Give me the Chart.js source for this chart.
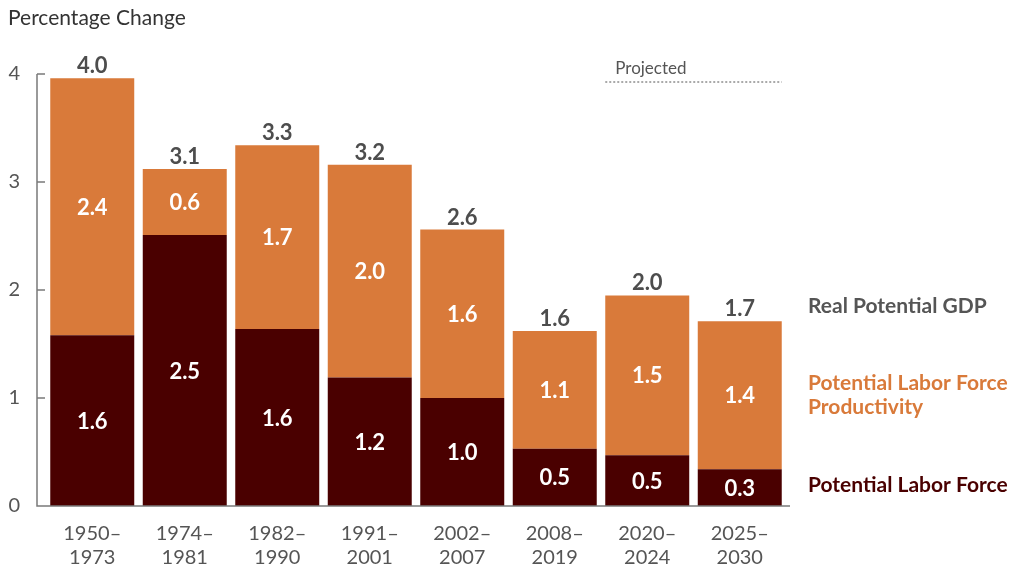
<!DOCTYPE html>
<html lang="en">
<head>
<meta charset="UTF-8">
<title>Real Potential GDP growth</title>
<script src="https://cdn.jsdelivr.net/npm/chart.js@4"></script>
<style>
body{margin:0;background:#fff;}
#wrap{position:relative;width:1011px;height:570px;}
</style>
</head>
<body>
<div id="wrap"><canvas id="chart" width="1011" height="570"></canvas></div>
<script>
// periods (two-line tick labels)
const periods = [["1950–","1973"],["1974–","1981"],["1982–","1990"],["1991–","2001"],["2002–","2007"],["2008–","2019"],["2020–","2024"],["2025–","2030"]];
// bar segment heights
const laborForce   = [1.58, 2.51, 1.64, 1.19, 1.00, 0.53, 0.47, 0.34];
const productivity = [2.38, 0.61, 1.70, 1.97, 1.56, 1.09, 1.48, 1.37];
// printed (rounded) figures
const laborLabels  = ["1.6","2.5","1.6","1.2","1.0","0.5","0.5","0.3"];
const prodLabels   = ["2.4","0.6","1.7","2.0","1.6","1.1","1.5","1.4"];
const totalLabels  = ["4.0","3.1","3.3","3.2","2.6","1.6","2.0","1.7"];
const yTicks = [0, 1, 2, 3, 4];
const projectedFrom = 6; // index of first projected period

const ORANGE = "#d97a3a", DARK = "#4a0000", GREY = "#555555", AXIS = "#7a7a7a";
const FONT = "Lato, 'Open Sans', sans-serif";

const overlay = {
  id: "overlay",
  afterDraw(chart) {
    const ctx = chart.ctx, ca = chart.chartArea;
    const y = chart.scales.y;
    const m0 = chart.getDatasetMeta(0), m1 = chart.getDatasetMeta(1);
    const axX = ca.left - 9;
    ctx.save();
    // axes
    ctx.strokeStyle = AXIS; ctx.lineWidth = 1.5;
    ctx.beginPath();
    ctx.moveTo(axX, y.getPixelForValue(4)); ctx.lineTo(axX, y.getPixelForValue(0));
    ctx.lineTo(ca.right + 4, y.getPixelForValue(0));
    yTicks.forEach(v => { const py = y.getPixelForValue(v); ctx.moveTo(axX, py); ctx.lineTo(axX + 8, py); });
    ctx.stroke();

    // segment labels
    ctx.textAlign = "center"; ctx.textBaseline = "middle";
    ctx.font = "bold 22px " + FONT; ctx.fillStyle = "#fff";
    m0.data.forEach((b, i) => ctx.fillText(laborLabels[i], b.x, (b.y + b.base) / 2 + 1));
    m1.data.forEach((b, i) => ctx.fillText(prodLabels[i], b.x, (b.y + b.base) / 2 + 1));
    ctx.fillStyle = "#4d4d4d";
    m1.data.forEach((b, i) => ctx.fillText(totalLabels[i], b.x, b.y - 12));

    // projected marker
    const b7 = m1.data[projectedFrom], b8 = m1.data[m1.data.length - 1];
    const px0 = b7.x - b7.width / 2, px1 = b8.x + b8.width / 2;
    ctx.strokeStyle = GREY; ctx.lineWidth = 1; ctx.setLineDash([2, 2]);
    ctx.beginPath(); ctx.moveTo(px0, ca.top + 8); ctx.lineTo(px1, ca.top + 8); ctx.stroke();
    ctx.setLineDash([]);
    ctx.textAlign = "left"; ctx.font = "17px " + FONT; ctx.fillStyle = GREY;
    ctx.fillText("Projected", px0 + 10, ca.top - 5);

    // series labels on the right
    const lx = ca.right + 22, last = laborForce.length - 1;
    ctx.font = "bold 21px " + FONT;
    ctx.fillStyle = GREY;
    ctx.fillText("Real Potential GDP", lx, y.getPixelForValue(laborForce[last] + productivity[last] + 0.14));
    const pm = y.getPixelForValue(laborForce[last] + productivity[last] / 2);
    ctx.fillStyle = ORANGE;
    ctx.fillText("Potential Labor Force", lx, pm - 12);
    ctx.fillText("Productivity", lx, pm + 12);
    ctx.fillStyle = DARK;
    ctx.fillText("Potential Labor Force", lx, y.getPixelForValue(laborForce[last] / 2) - 2);

    // title
    ctx.font = "21px " + FONT; ctx.fillStyle = "#333";
    ctx.fillText("Percentage Change", 8, 18);
    ctx.restore();
  }
};

new Chart(document.getElementById("chart"), {
  type: "bar",
  data: {
    labels: periods,
    datasets: [
      { label: "Potential Labor Force", data: laborForce, backgroundColor: DARK },
      { label: "Potential Labor Force Productivity", data: productivity, backgroundColor: ORANGE }
    ]
  },
  options: {
    responsive: false,
    animation: false,
    layout: { padding: { top: 74, right: 225, bottom: 0, left: 0 } },
    plugins: { legend: { display: false }, tooltip: { enabled: false } },
    datasets: { bar: { barPercentage: 0.908, categoryPercentage: 1 } },
    scales: {
      x: {
        stacked: true,
        grid: { display: false }, border: { display: false },
        ticks: { color: GREY, font: { family: FONT, size: 20 }, padding: 8, maxRotation: 0, autoSkip: false },
        afterFit: s => { s.height = 64; }
      },
      y: {
        stacked: true, min: 0, max: 4,
        grid: { display: false }, border: { display: false },
        ticks: { stepSize: 1, color: GREY, font: { family: FONT, size: 20 }, padding: 18 },
        afterFit: s => { s.width = 46; }
      }
    }
  },
  plugins: [overlay]
});
</script>
</body>
</html>
